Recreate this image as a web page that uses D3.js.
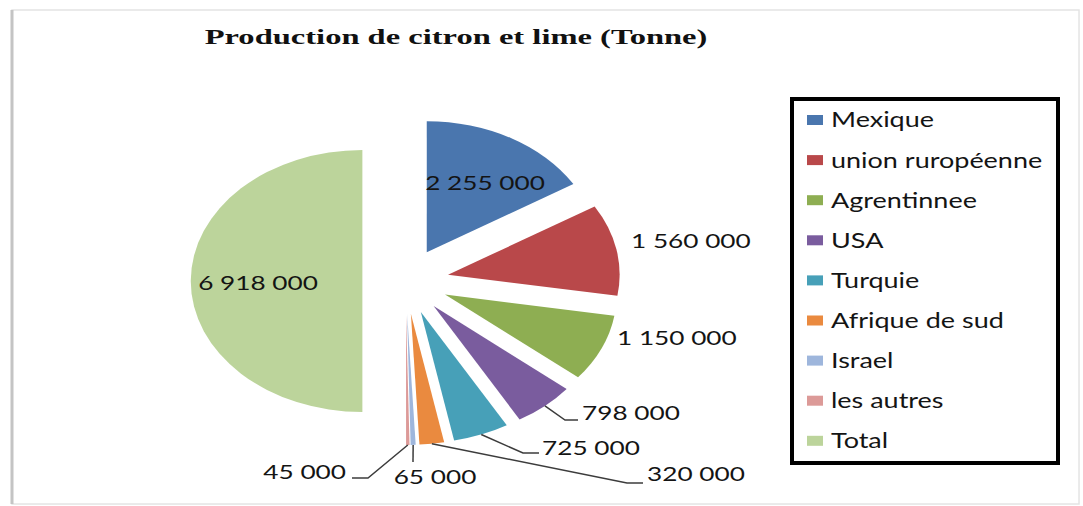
<!DOCTYPE html>
<html>
<head>
<meta charset="utf-8">
<script src="https://cdn.jsdelivr.net/npm/d3@7"></script>
<style>
  body { margin: 0; background: #fff; }
  svg text { font-family: Lato, "Open Sans", sans-serif; fill: #141414; }
</style>
</head>
<body>
<svg id="chart" width="1083" height="506"></svg>
<script>
// chart data
const categories = ['Mexique', 'union ruropéenne', 'Agrentinnee', 'USA', 'Turquie', 'Afrique de sud', 'Israel', 'les autres', 'Total']
const values = [2255000, 1560000, 1150000, 798000, 725000, 320000, 65000, 45000, 6918000]
const colors = ['#4a76ae', '#b9484a', '#8eae52', '#7a5c9e', '#47a0b8', '#ea8a3f', '#9eb6dc', '#dc9a98', '#bcd49b']
const title = 'Production de citron et lime (Tonne)'

// the source picture is stretched sideways
const SX = 1.31
const cx = 405.6, cy = 281
const R = 131, EXPLODE = 33

// label layout (screen px): where the text sits, and the leader line bends
const labelLayout = [
  { x: 485, y: 183, anchor: 'middle' },
  { x: 631, y: 241, anchor: 'start' },
  { x: 617, y: 338, anchor: 'start' },
  { x: 582, y: 413, anchor: 'start', line: [[565, 420], [578, 420]] },
  { x: 542, y: 448, anchor: 'start', line: [[523, 453], [539, 453]] },
  { x: 647, y: 474, anchor: 'start', line: [[627, 483], [643, 483]] },
  { x: 435, y: 477, anchor: 'middle', line: [[413, 462]] },
  { x: 346, y: 472, anchor: 'end', line: [[368, 478], [352, 478]] },
  { x: 258, y: 283, anchor: 'middle' }
]

const fmt = v => d3.format(',')(v).replace(/,/g, ' ')

const svg = d3.select('#chart')

// outer frame with soft left shadow
svg.append('rect').attr('x', 12).attr('y', 10).attr('width', 1067).attr('height', 494)
  .attr('fill', '#fff').attr('stroke', '#e4e4e4').attr('stroke-width', 1.5)
svg.append('line').attr('x1', 12).attr('x2', 12).attr('y1', 10).attr('y2', 504)
  .attr('stroke', '#c4c4c4').attr('stroke-width', 3)

// title
svg.append('text')
  .attr('transform', `translate(456,44) scale(1.55,1)`)
  .attr('text-anchor', 'middle')
  .style('font-family', '"Liberation Serif", "Times New Roman", serif')
  .style('font-weight', 'bold')
  .style('font-size', '21px')
  .style('fill', '#111')
  .text(title)

const pie = d3.pie().sort(null).value(d => d)
const arcs = pie(values)
const arc = d3.arc().innerRadius(0).outerRadius(R)

const g = svg.append('g').attr('transform', `translate(${cx},${cy}) scale(${SX},1)`)
g.selectAll('path')
  .data(arcs)
  .join('path')
  .attr('d', arc)
  .attr('fill', (d, i) => colors[i])
  .attr('transform', d => {
    const a = (d.startAngle + d.endAngle) / 2
    return `translate(${Math.sin(a) * EXPLODE},${-Math.cos(a) * EXPLODE})`
  })

// outer arc midpoint on screen
const outerPoint = d => {
  const a = (d.startAngle + d.endAngle) / 2
  const r = R + EXPLODE
  return [cx + Math.sin(a) * r * SX, cy - Math.cos(a) * r]
}

// leader lines
arcs.forEach((d, i) => {
  const L = labelLayout[i]
  if (!L.line) return
  const pts = [outerPoint(d)].concat(L.line)
  svg.append('path')
    .attr('d', d3.line()(pts))
    .attr('fill', 'none')
    .attr('stroke', '#3c3c3c')
    .attr('stroke-width', 1.5)
})

// data labels
svg.selectAll('text.lbl')
  .data(arcs)
  .join('text')
  .attr('class', 'lbl')
  .attr('transform', (d, i) => `translate(${labelLayout[i].x},${labelLayout[i].y}) scale(${SX},1)`)
  .attr('text-anchor', (d, i) => labelLayout[i].anchor)
  .attr('dy', '0.36em')
  .style('font-size', '20px')
  .text(d => fmt(d.data))

// legend
svg.append('rect').attr('x', 792).attr('y', 99).attr('width', 266).attr('height', 364)
  .attr('fill', '#fff').attr('stroke', '#000').attr('stroke-width', 4)

const legend = svg.append('g')
  .selectAll('g')
  .data(categories)
  .join('g')
  .attr('transform', (d, i) => `translate(807,${120 + i * 40.1})`)
legend.append('rect')
  .attr('x', 0).attr('y', -5).attr('width', 16).attr('height', 10)
  .attr('fill', (d, i) => colors[i])
legend.append('text')
  .attr('transform', `translate(24,0) scale(${SX},1)`)
  .attr('dy', '0.36em')
  .style('font-size', '20.6px')
  .text(d => d)
</script>
</body>
</html>
